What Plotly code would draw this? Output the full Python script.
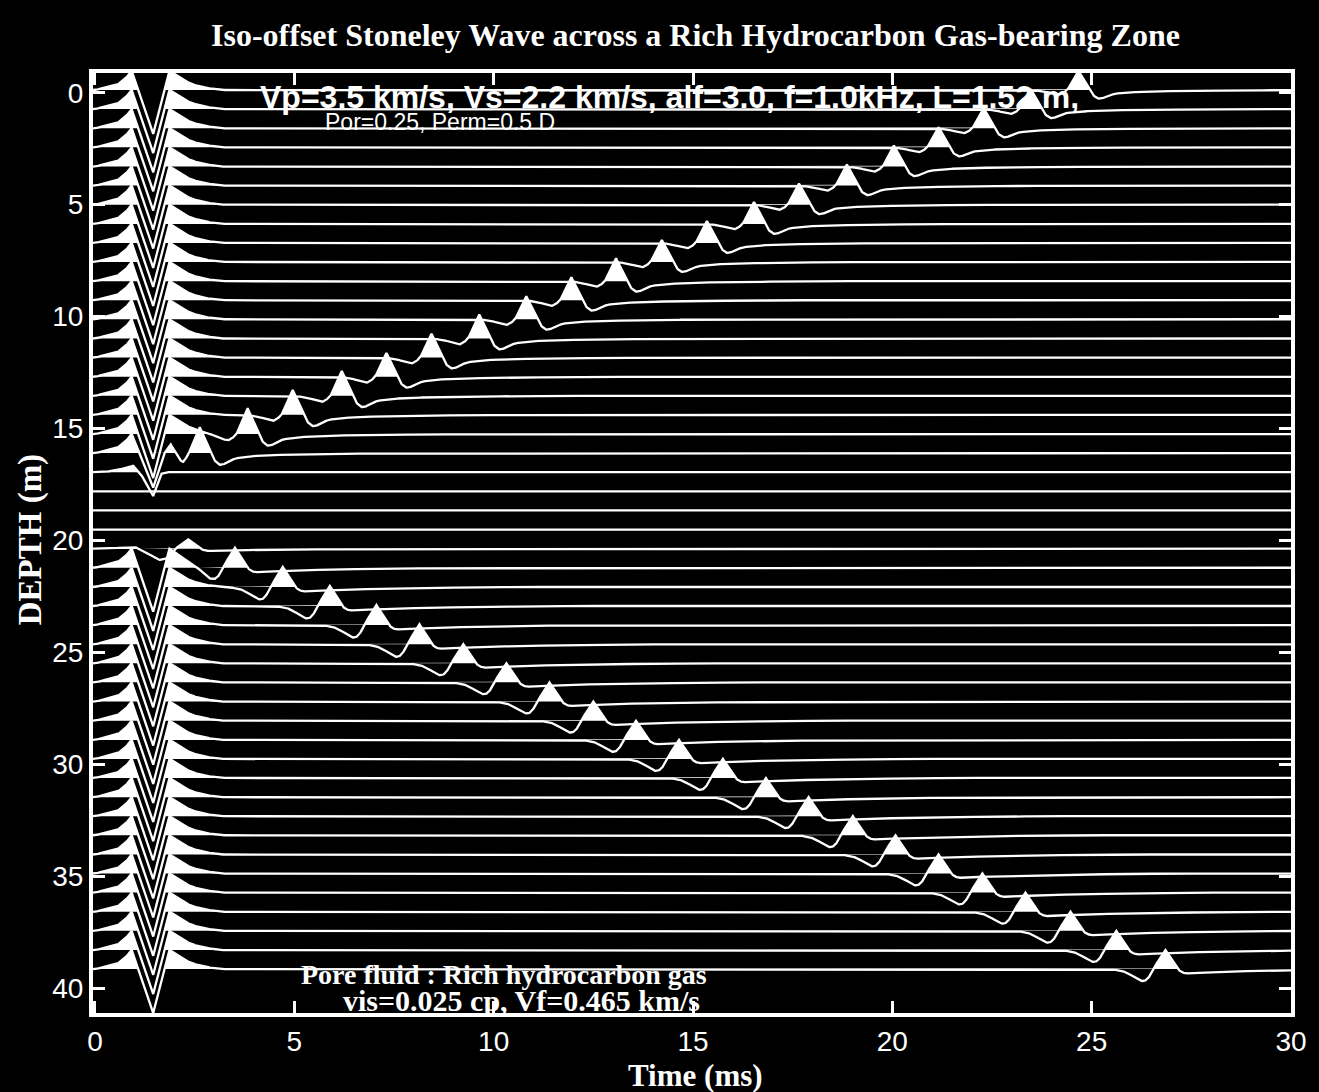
import numpy as np
import plotly.graph_objects as go

# ---------------------------------------------------------------------------
# Trace geometry: depth of each receiver trace baseline (m)
# ---------------------------------------------------------------------------
TRACE_DEPTH = [-0.12, 0.73, 1.59, 2.44, 3.30, 4.15, 5.00, 5.86, 6.71, 7.56,
               8.42, 9.27, 10.12, 10.98, 11.83, 12.69, 13.54, 14.39, 15.25, 16.10,
               16.95, 17.81, 18.66, 19.52, 20.37, 21.22, 22.08, 22.93, 23.78, 24.64,
               25.49, 26.34, 27.20, 28.05, 28.91, 29.76, 30.61, 31.47, 32.32, 33.17,
               34.03, 34.88, 35.73, 36.59, 37.44, 38.30, 39.15]
TRACE_GAP = 0.854          # one unit of normalised amplitude, in metres of depth

# Direct Stoneley arrival: which waveform each trace carries
DIRECT_KIND = (["full"] * 19
               + ["fading", "weak", "none", "none", "none", "faint"]
               + ["full"] * 22)

# Direct arrival waveforms (time in ms, normalised amplitude)
DIRECT_WAVELETS = {
    "full": ([0.00, 0.29, 0.58, 0.75, 0.86, 0.92, 1.09, 1.46, 1.73, 1.87, 2.00, 2.17, 2.42, 2.71, 3.13],
             [0.00, 0.14, 0.31, 0.57, 0.83, 1.00, 0.00, -2.30, 0.00, 1.00, 0.83, 0.57, 0.31, 0.14, 0.00]),
    "fading": ([0.00, 0.29, 0.58, 0.75, 0.86, 0.92, 1.12, 1.46, 1.72, 1.90, 2.05, 2.20, 2.40],
               [0.00, 0.14, 0.31, 0.57, 0.83, 1.00, 0.00, -1.80, 0.00, 0.65, 0.20, -0.20, 0.00]),
    "weak": ([0.20, 0.60, 0.95, 1.15, 1.46, 1.65, 1.80],
             [0.00, 0.12, 0.35, -0.10, -1.25, -0.10, 0.00]),
    "faint": ([0.30, 1.00, 1.30, 1.60, 1.85, 2.00],
              [0.00, 0.10, -0.15, -0.35, -0.15, 0.00]),
    "none": ([0.00, 1.00], [0.00, 0.00]),
}

# Reflected Stoneley waves above the gas zone (traces 0-19, travelling up)
UP_TRACES = list(range(0, 20))
UP_TIME = [24.67, 23.47, 22.29, 21.16, 20.04, 18.86, 17.66, 16.53, 15.35, 14.22,
           13.07, 11.95, 10.82, 9.64, 8.44, 7.31, 6.19, 4.96, 3.83, 2.63]
UP_AMP = [1.00, 1.05, 1.05, 1.05, 1.10, 1.10, 1.10, 1.15, 1.15, 1.15,
          1.20, 1.20, 1.20, 1.25, 1.25, 1.25, 1.30, 1.30, 1.35, 1.35]

# Reflected Stoneley waves below the gas zone (traces 24-46, travelling down)
DOWN_TRACES = list(range(24, 47))
DOWN_TIME = [2.33, 3.51, 4.71, 5.89, 7.06, 8.14, 9.24, 10.32, 11.40, 12.50,
             13.57, 14.65, 15.75, 16.83, 17.90, 19.01, 20.08, 21.16, 22.26, 23.34,
             24.47, 25.62, 26.85]
DOWN_AMP = [0.50, 1.05, 1.05, 1.05, 1.05, 1.05, 1.00, 1.00, 1.00, 1.00,
            1.00, 1.00, 1.00, 1.00, 1.00, 1.00, 1.00, 1.00, 1.00, 1.00,
            1.00, 1.00, 1.00]

# Reflected pulse shapes (time relative to the peak, ms)
UP_PULSE = ([-1.20, -0.90, -0.70, -0.50, -0.40, -0.28, 0.00, 0.28, 0.38, 0.48,
             0.58, 0.72, 0.90, 1.20, 1.70, 2.50, 4.00, 6.00],
            [0.00, -0.06, -0.16, -0.25, -0.18, 0.00, 1.00, 0.00, -0.30, -0.45,
             -0.45, -0.32, -0.20, -0.13, -0.08, -0.05, -0.02, 0.00])
DOWN_PULSE = ([-1.40, -1.10, -0.90, -0.75, -0.62, -0.52, -0.42, -0.31, 0.00, 0.31,
               0.40, 0.50, 0.62, 0.80, 1.20, 2.00, 3.50, 6.00],
              [0.00, -0.08, -0.25, -0.45, -0.62, -0.62, -0.45, 0.00, 1.00, 0.00,
               -0.15, -0.22, -0.22, -0.20, -0.16, -0.11, -0.05, 0.00])

T_MIN, T_MAX = -0.05, 30.0

# ---------------------------------------------------------------------------
# Assemble the wiggle traces
# ---------------------------------------------------------------------------
t = np.arange(T_MIN, T_MAX + 0.001, 0.01)


def pulse(shape, t0=0.0, amp=1.0):
    tt, aa = shape
    return amp * np.interp(t - t0, tt, aa, left=0.0, right=0.0)


amps = [pulse(DIRECT_WAVELETS[kind]) for kind in DIRECT_KIND]
for i, t0, a in zip(UP_TRACES, UP_TIME, UP_AMP):
    amps[i] = amps[i] + pulse(UP_PULSE, t0, a)
for i, t0, a in zip(DOWN_TRACES, DOWN_TIME, DOWN_AMP):
    amps[i] = amps[i] + pulse(DOWN_PULSE, t0, a)

line_x, line_y, fill_x, fill_y = [], [], [], []
for depth, a in zip(TRACE_DEPTH, amps):
    y = depth - a * TRACE_GAP
    line_x += list(t) + [None]
    line_y += list(y) + [None]
    pos = depth - np.clip(a, 0, None) * TRACE_GAP
    fill_x += list(t) + list(t[::-1]) + [None]
    fill_y += list(pos) + [depth] * len(t) + [None]

fig = go.Figure()
fig.add_trace(go.Scatter(x=fill_x, y=fill_y, mode="lines", fill="toself",
                         fillcolor="white", line=dict(width=0),
                         hoverinfo="skip", showlegend=False))
fig.add_trace(go.Scatter(x=line_x, y=line_y, mode="lines",
                         line=dict(color="white", width=2.3),
                         hoverinfo="skip", showlegend=False))

SERIF = "Liberation Serif, Times New Roman, serif"
SANS = "Liberation Sans, Arial, Helvetica, sans-serif"

axis_common = dict(showgrid=False, zeroline=False, showline=True,
                   linecolor="white", linewidth=4, mirror="ticks",
                   ticks="inside", ticklen=12, tickwidth=3, tickcolor="white",
                   tickfont=dict(family=SANS, size=28, color="white"))

fig.update_xaxes(range=[T_MIN, T_MAX], tickvals=[0, 5, 10, 15, 20, 25, 30],
                 ticklabelstandoff=0, **axis_common)
fig.update_yaxes(range=[41.11, -0.88], tickvals=[0, 5, 10, 15, 20, 25, 30, 35, 40],
                 ticklabelstandoff=0, **axis_common)

annotations = [
    dict(text="<b>Iso-offset Stoneley Wave across a Rich Hydrocarbon Gas-bearing Zone</b>",
         x=0.503, y=1.0404, font=dict(family=SERIF, size=32, color="white")),
    dict(text="<b>Time (ms)</b>", x=0.503, y=-0.066,
         font=dict(family=SERIF, size=31, color="white")),
    dict(text="<b>DEPTH (m)</b>", x=-0.0525, y=0.503, textangle=-90,
         font=dict(family=SERIF, size=33, color="white")),
    dict(text="<b>Vp=3.5 km/s, Vs=2.2 km/s, alf=3.0, f=1.0kHz, L=1.52 m,</b>",
         x=0.481, y=0.9745, font=dict(family=SANS, size=32, color="white")),
    dict(text="Por=0.25, Perm=0.5 D", x=0.29, y=0.948,
         font=dict(family=SANS, size=23, color="white")),
    dict(text="<b>Pore fluid : Rich hydrocarbon gas</b>", x=0.343, y=0.041,
         font=dict(family=SERIF, size=28, color="white")),
    dict(text="<b>vis=0.025 cp, Vf=0.465 km/s</b>", x=0.358, y=0.0128,
         font=dict(family=SERIF, size=30, color="white")),
]
for ann in annotations:
    ann.update(xref="paper", yref="paper", showarrow=False,
               xanchor="center", yanchor="middle")

fig.update_layout(width=1319, height=1092,
                  margin=dict(l=93, r=26, t=73, b=79),
                  paper_bgcolor="black", plot_bgcolor="black",
                  annotations=annotations, showlegend=False)

fig.write_html("out.html")
